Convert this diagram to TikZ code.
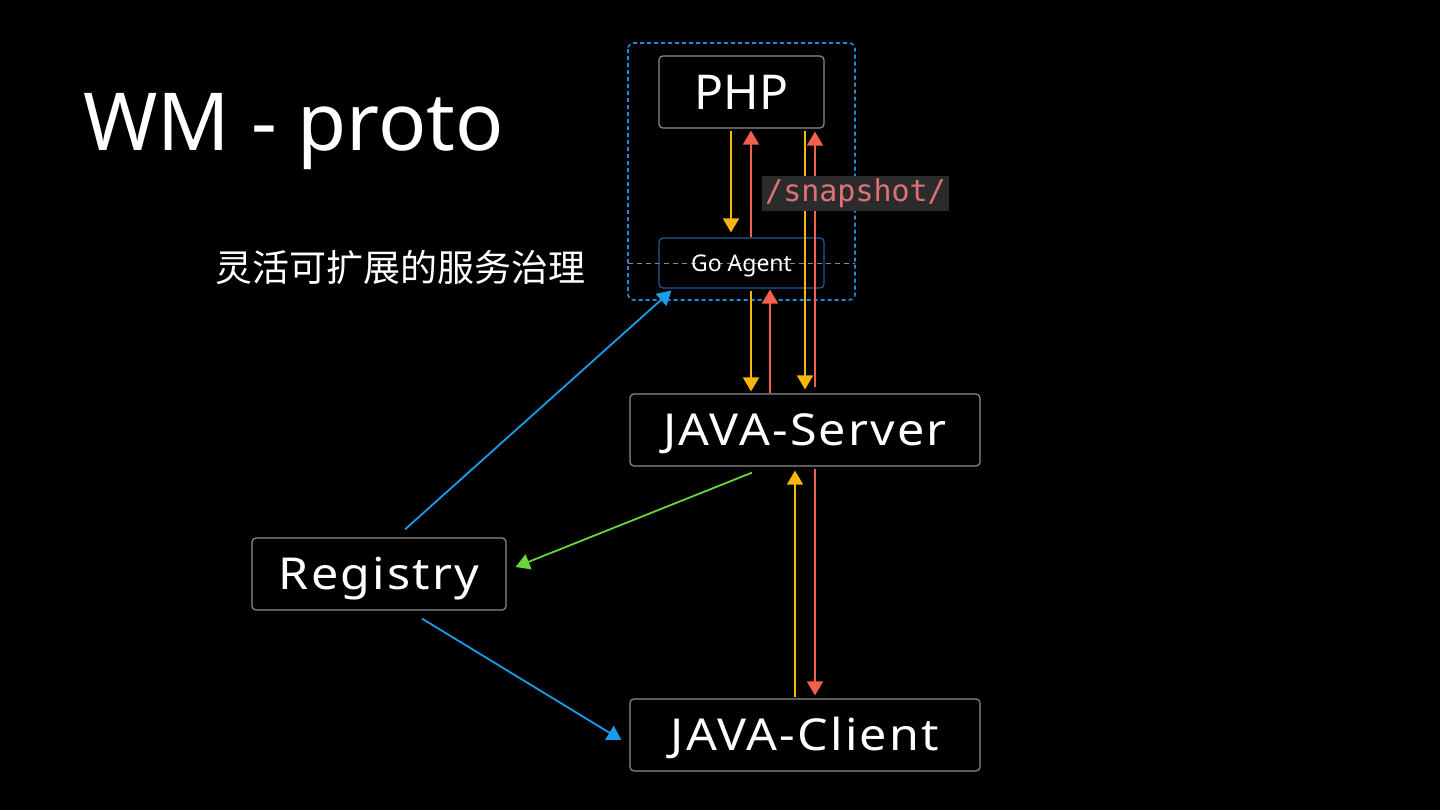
\documentclass[tikz,border=0pt]{standalone}
\usepackage{fontspec}
\setmainfont{Noto Sans}
\newfontfamily\cjk{Noto Sans CJK SC}
\newfontfamily\wide[FakeStretch=1.1,LetterSpace=5]{Noto Sans}
\setmonofont{DejaVu Sans Mono}
\usetikzlibrary{arrows.meta,calc}

\definecolor{boxgray}{HTML}{8C8C8C}
\definecolor{goblue}{HTML}{1F5C96}
\definecolor{grpblue}{HTML}{1E8FE0}
\definecolor{callgold}{HTML}{F5B70A}
\definecolor{backred}{HTML}{F0604D}
\definecolor{regblue}{HTML}{1B9CE8}
\definecolor{regreen}{HTML}{6BD33B}
\definecolor{codered}{HTML}{DC7276}
\definecolor{codebg}{HTML}{2B2B2B}

\begin{document}
\begin{tikzpicture}[x=0.5pt,y=-0.5pt,
    box/.style={draw=boxgray, line width=0.6pt, rounded corners=2pt, text=white, inner sep=0pt, text depth=0pt},
    big/.style={font=\wide\fontsize{22}{26}\selectfont, text height=15.7pt},
    flow/.style={line width=0.9pt, -{Triangle[width=8pt,length=7pt]}},
    gold/.style={flow, draw=callgold, fill=callgold},
    back/.style={flow, draw=backred, fill=backred}]
    \fill[black] (0,0) rectangle (1440,810);
    \useasboundingbox (0,0) rectangle (1440,810);

    % title
    \node[anchor=base west, text=white, inner sep=0pt, font=\fontsize{40}{48}\selectfont] (title) at (83,150) {WM - proto};
    \node[text=white, inner sep=0pt, font=\cjk\fontsize{18.5}{24}\selectfont] (sub) at (400,267) {灵活可扩展的服务治理};

    % php side group
    \draw[grpblue, line width=0.8pt, dash pattern=on 2pt off 1.5pt, rounded corners=3pt] (628,43) rectangle (855,300);
    \draw[boxgray, line width=0.5pt, dash pattern=on 2.5pt off 2pt] (628,263) -- (855,263);

    \node[box, minimum width=82.5pt, minimum height=36pt, text height=17.1pt, font=\fontsize{24}{30}\selectfont] (php) at (741.5,92) {PHP};
    \node[box, draw=goblue, minimum width=82.5pt, minimum height=25pt, text height=8.2pt, font=\fontsize{11.5}{14}\selectfont] (agent) at (741.5,263) {Go Agent};
    \node[box, big, minimum width=175pt, minimum height=36pt] (server) at (805,430) {JAVA-Server};
    \node[box, big, minimum width=127pt, minimum height=36pt] (registry) at (379,574) {Registry};
    \node[box, big, minimum width=175pt, minimum height=36pt] (client) at (805,735) {JAVA-Client};

    % lanes
    \coordinate (l1) at (731,0);
    \coordinate (l2) at (751,0);
    \coordinate (l3) at (770,0);
    \coordinate (l4) at (795,0);
    \coordinate (l5) at (805,0);
    \coordinate (l6) at (815,0);

    \draw[gold, shorten <=1pt, shorten >=2.5pt] (php.south -| l1) -- (agent.north -| l1);
    \draw[back, shorten >=1pt] (agent.north -| l2) -- (php.south -| l2);
    \draw[gold, shorten <=1pt, shorten >=2pt] (php.south -| l5) -- (server.north -| l5);
    \draw[back, shorten <=3pt, shorten >=1.5pt] (server.north -| l6) -- (php.south -| l6);
    \draw[gold, shorten <=1pt, shorten >=1pt] (agent.south -| l2) -- (server.north -| l2);
    \draw[back, shorten >=0.5pt] (server.north -| l3) -- (agent.south -| l3);
    \draw[gold, shorten <=0.5pt, shorten >=2pt] (client.north -| l4) -- (server.south -| l4);
    \draw[back, shorten <=1pt, shorten >=1.5pt] (server.south -| l6) -- (client.north -| l6);

    \node[fill=codebg, text=codered, inner sep=1.5pt, font=\ttfamily\fontsize{15}{18}\selectfont] (snap) at (855.5,193.5) {/snapshot/};

    % registry links
    \draw[flow, draw=regblue, fill=regblue] ($(registry.north)+(26,-8)$) -- ($(agent.south west)+(13,2)$);
    \draw[flow, draw=regreen, fill=regreen] ($(server.south)+(-53,6)$) -- ($(registry.east)+(9,-7)$);
    \draw[flow, draw=regblue, fill=regblue] ($(registry.south)+(43,8)$) -- ($(client.west)+(-8,5)$);
\end{tikzpicture}
\end{document}
